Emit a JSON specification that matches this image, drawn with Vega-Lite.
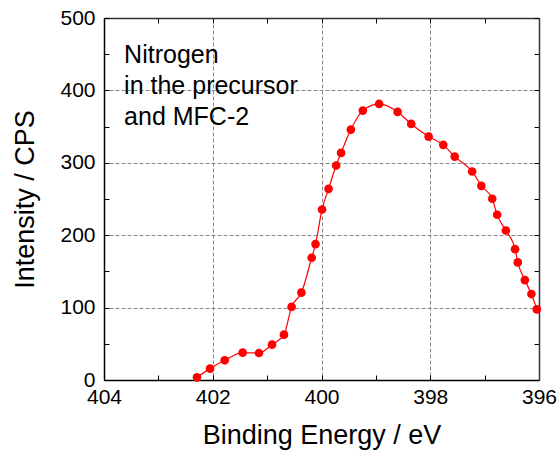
{
  "$schema": "https://vega.github.io/schema/vega-lite/v6.json",
  "autosize": "none",
  "width": 435,
  "height": 362,
  "padding": {"left": 104, "top": 18, "right": 20, "bottom": 73},
  "background": "white",
  "config": {
    "font": "Liberation Sans",
    "view": {"stroke": null},
    "axis": {"labelFont": "Liberation Sans", "titleFont": "Liberation Sans", "titleFontWeight": "normal"}
  },
  "datasets": {
    "spec": [
      {"be": 402.29, "cps": 3.7},
      {"be": 402.05, "cps": 15.7},
      {"be": 401.78, "cps": 27.2},
      {"be": 401.45, "cps": 37.8},
      {"be": 401.15, "cps": 37.3},
      {"be": 400.91, "cps": 48.8},
      {"be": 400.69, "cps": 62.6},
      {"be": 400.55, "cps": 101},
      {"be": 400.37, "cps": 120.6},
      {"be": 400.18, "cps": 168.9},
      {"be": 400.11, "cps": 187.7},
      {"be": 399.99, "cps": 235.5},
      {"be": 399.87, "cps": 264},
      {"be": 399.73, "cps": 296.2},
      {"be": 399.64, "cps": 313.7},
      {"be": 399.46, "cps": 345.9},
      {"be": 399.24, "cps": 372.1},
      {"be": 398.94, "cps": 381.3},
      {"be": 398.6, "cps": 370.3},
      {"be": 398.35, "cps": 353.7},
      {"be": 398.03, "cps": 336.2},
      {"be": 397.76, "cps": 324.8},
      {"be": 397.55, "cps": 308.6},
      {"be": 397.23, "cps": 288},
      {"be": 397.06, "cps": 268.2},
      {"be": 396.86, "cps": 250.3},
      {"be": 396.77, "cps": 228.2},
      {"be": 396.61, "cps": 206.5},
      {"be": 396.44, "cps": 180.7},
      {"be": 396.39, "cps": 162.4},
      {"be": 396.26, "cps": 138},
      {"be": 396.14, "cps": 118.7},
      {"be": 396.04, "cps": 97.5}
    ],
    "note": [
      {"label": ["Nitrogen", "in the precursor", "and MFC-2"], "bx": 403.63, "cy": 437.9}
    ]
  },
  "resolve": {"axis": {"x": "independent", "y": "independent"}},
  "layer": [
    {
      "data": {"name": "spec"},
      "mark": {"type": "line", "color": "#ff0000", "strokeWidth": 1.2, "interpolate": "monotone", "clip": true},
      "encoding": {
        "x": {
          "field": "be", "type": "quantitative",
          "scale": {"domain": [396, 404], "reverse": true, "nice": false, "zero": false},
          "axis": {
            "orient": "bottom", "title": "Binding Energy / eV",
            "values": [404, 403, 402, 401, 400, 399, 398, 397, 396],
            "labelExpr": "datum.value % 2 === 0 ? datum.label : ''",
            "labelFontSize": 21, "labelColor": "black", "labelPadding": 11, "labelFlush": false,
            "tickSize": -5, "tickColor": "black", "tickWidth": 1,
            "domainColor": "black", "domainWidth": 1.5,
            "grid": true, "gridColor": "#888888", "gridDash": [4, 2], "gridWidth": 1,
            "gridOpacity": {"condition": {"test": "datum.value % 2 === 0 && datum.value !== 404 && datum.value !== 396", "value": 1}, "value": 0},
            "titleFontSize": 27, "titleColor": "black", "titlePadding": 15
          }
        },
        "y": {
          "field": "cps", "type": "quantitative",
          "scale": {"domain": [0, 500], "nice": false},
          "axis": {
            "orient": "left", "title": "Intensity / CPS",
            "values": [0, 50, 100, 150, 200, 250, 300, 350, 400, 450, 500],
            "labelExpr": "datum.value % 100 === 0 ? datum.label : ''",
            "labelFontSize": 21, "labelColor": "black", "labelPadding": 14,
            "tickSize": -5, "tickColor": "black", "tickWidth": 1,
            "domainColor": "black", "domainWidth": 1.5,
            "grid": true, "gridColor": "#888888", "gridDash": [4, 2], "gridWidth": 1,
            "gridOpacity": {"condition": {"test": "datum.value % 100 === 0 && datum.value !== 0 && datum.value !== 500", "value": 1}, "value": 0},
            "titleFontSize": 27, "titleColor": "black", "titlePadding": 20
          }
        },
        "order": {"field": "be", "sort": "descending"}
      }
    },
    {
      "data": {"name": "spec"},
      "mark": {"type": "circle", "color": "#ff0000", "opacity": 1, "size": 75, "clip": false},
      "encoding": {
        "x": {
          "field": "be", "type": "quantitative",
          "scale": {"domain": [396, 404], "reverse": true, "nice": false, "zero": false},
          "axis": {
            "orient": "top", "title": null, "labels": false, "grid": false,
            "values": [404, 403, 402, 401, 400, 399, 398, 397, 396],
            "tickSize": -5, "tickColor": "black", "domainColor": "#333333", "domainWidth": 1.5
          }
        },
        "y": {
          "field": "cps", "type": "quantitative",
          "scale": {"domain": [0, 500], "nice": false},
          "axis": {
            "orient": "right", "title": null, "labels": false, "grid": false,
            "values": [0, 50, 100, 150, 200, 250, 300, 350, 400, 450, 500],
            "tickSize": -5, "tickColor": "black", "domainColor": "#333333", "domainWidth": 1.5
          }
        }
      }
    },
    {
      "data": {"name": "note"},
      "mark": {"type": "text", "align": "left", "baseline": "alphabetic", "fontSize": 25, "lineHeight": 31, "color": "black", "font": "Liberation Sans"},
      "encoding": {
        "x": {"field": "bx", "type": "quantitative", "axis": null},
        "y": {"field": "cy", "type": "quantitative", "axis": null},
        "text": {"field": "label"}
      }
    }
  ]
}
